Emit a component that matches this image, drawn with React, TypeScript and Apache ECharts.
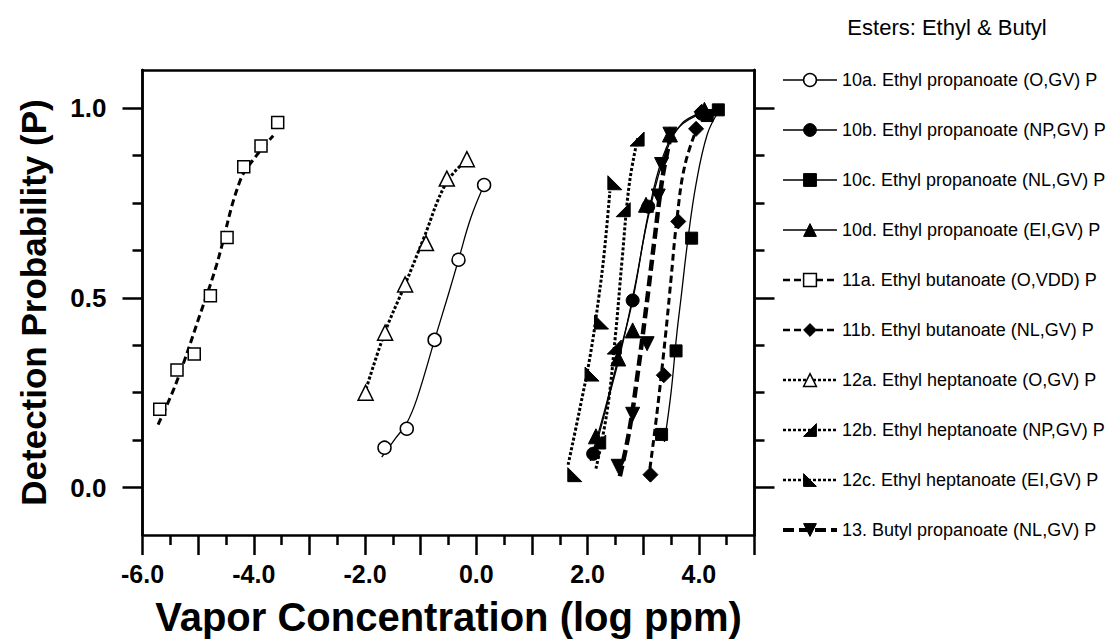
import React, { useEffect, useRef } from "react";
import * as echarts from "echarts";

const FONT = '"Liberation Sans", Arial, Helvetica, sans-serif';

// ---- Data ----
const LEGEND_NAMES = [
  "10a. Ethyl propanoate (O,GV) P",
  "10b. Ethyl propanoate (NP,GV) P",
  "10c. Ethyl propanoate (NL,GV) P",
  "10d. Ethyl propanoate (EI,GV) P",
  "11a. Ethyl butanoate (O,VDD) P",
  "11b. Ethyl butanoate (NL,GV) P",
  "12a. Ethyl heptanoate (O,GV) P",
  "12b. Ethyl heptanoate (NP,GV) P",
  "12c. Ethyl heptanoate (EI,GV) P",
  "13. Butyl propanoate (NL,GV) P",
];

const P10A = [[-1.65, 0.105], [-1.25, 0.155], [-0.75, 0.389], [-0.32, 0.6], [0.14, 0.797]];
const C10A = [[-1.7, 0.08], [-1.45, 0.13], [-1.25, 0.17], [-1.07, 0.233], [-0.75, 0.389], [-0.5, 0.51], [-0.32, 0.6], [-0.1, 0.71], [0.14, 0.797]];

const P10B = [[2.1, 0.089], [2.81, 0.493], [3.09, 0.74], [4.05, 0.985]];
const C10B = [[2.05, 0.07], [2.3, 0.2], [2.55, 0.34], [2.81, 0.493], [3.09, 0.72], [3.35, 0.87], [3.65, 0.95], [4.05, 0.985]];

const P10C = [[3.33, 0.14], [3.59, 0.36], [3.87, 0.657], [4.15, 0.98], [4.35, 0.995]];
const C10C = [[3.38, 0.12], [3.5, 0.25], [3.6, 0.4], [3.68, 0.5], [3.8, 0.65], [3.95, 0.8], [4.15, 0.93], [4.35, 0.99]];

const P10D = [[2.15, 0.135], [2.55, 0.34], [2.81, 0.414], [3.05, 0.745], [3.48, 0.93], [4.1, 0.995]];
const C10D = [[2.1, 0.08], [2.35, 0.22], [2.6, 0.36], [2.85, 0.53], [3.1, 0.72], [3.4, 0.88], [3.7, 0.96], [4.1, 0.99]];

const P11A = [[-5.69, 0.206], [-5.38, 0.31], [-5.07, 0.352], [-4.78, 0.505], [-4.48, 0.659], [-4.18, 0.845], [-3.87, 0.9], [-3.57, 0.962]];
const C11A = [[-5.72, 0.166], [-5.39, 0.277], [-4.97, 0.454], [-4.67, 0.586], [-4.25, 0.807], [-3.95, 0.875], [-3.65, 0.927]];

const P11B = [[3.13, 0.034], [3.37, 0.296], [3.63, 0.701], [3.95, 0.945], [4.05, 0.99]];
const C11B = [[3.12, 0.05], [3.25, 0.2], [3.4, 0.4], [3.5, 0.55], [3.6, 0.7], [3.75, 0.85], [4.0, 0.96]];

const P12A = [[-1.99, 0.25], [-1.64, 0.408], [-1.28, 0.535], [-0.905, 0.644], [-0.53, 0.814], [-0.17, 0.865]];
const C12A = [[-1.98, 0.26], [-1.64, 0.41], [-1.28, 0.535], [-0.95, 0.655], [-0.55, 0.8], [-0.2, 0.86]];

const P12B = [[2.2, 0.12], [2.48, 0.37], [2.64, 0.732], [2.89, 0.918]];
const C12B = [[2.15, 0.05], [2.35, 0.2], [2.5, 0.4], [2.62, 0.6], [2.75, 0.8], [2.9, 0.92]];

const P12C = [[1.77, 0.034], [2.08, 0.299], [2.25, 0.436], [2.49, 0.803]];
const C12C = [[1.65, 0.06], [1.85, 0.2], [2.05, 0.35], [2.2, 0.5], [2.3, 0.62], [2.4, 0.78]];

const P13 = [[2.55, 0.056], [2.81, 0.193], [3.07, 0.379], [3.27, 0.768], [3.33, 0.851], [3.48, 0.931]];
const C13 = [[2.58, 0.03], [2.75, 0.15], [2.9, 0.3], [3.05, 0.47], [3.2, 0.65], [3.35, 0.82], [3.5, 0.93]];

const X_LABELS = [-6, -4, -2, 0, 2, 4];
const Y_MAJOR = [0, 0.5, 1.0];
const Y_MINOR = [0.125, 0.25, 0.375, 0.625, 0.75, 0.875];

// ---- Styles ----
const DOWN_TRI = "path://M0,0L10,0L5,9Z";
const HALF_B = "path://M10,0L10,10L0,10Z";
const HALF_C = "path://M0,0L0,10L10,10Z";

const SOLID = "solid";
const DASH: number[] = [7, 4];
const DOT: number[] = [3, 2];
const LONGDASH: number[] = [11, 5];

const ITEMS = [
  { points: P10A, curve: C10A, symbol: "circle", size: 13, open: true, line: SOLID, width: 1.3 },
  { points: P10B, curve: C10B, symbol: "circle", size: 13, open: false, line: SOLID, width: 1.3 },
  { points: P10C, curve: C10C, symbol: "rect", size: 12, open: false, line: SOLID, width: 1.3 },
  { points: P10D, curve: C10D, symbol: "triangle", size: 15, open: false, line: SOLID, width: 1.3 },
  { points: P11A, curve: C11A, symbol: "rect", size: 12, open: true, line: DASH, width: 3 },
  { points: P11B, curve: C11B, symbol: "diamond", size: 15, open: false, line: DASH, width: 3 },
  { points: P12A, curve: C12A, symbol: "triangle", size: 15, open: true, line: DOT, width: 3 },
  { points: P12B, curve: C12B, symbol: HALF_B, size: 14, open: false, line: DOT, width: 3 },
  { points: P12C, curve: C12C, symbol: HALF_C, size: 14, open: false, line: DOT, width: 3 },
  { points: P13, curve: C13, symbol: DOWN_TRI, size: 14, open: false, line: LONGDASH, width: 4.5 },
];

export default function App() {
  const ref = useRef<HTMLDivElement>(null);

  useEffect(() => {
    if (!ref.current) return;
    const chart = echarts.init(ref.current, undefined, { renderer: "svg" });

    const curveSeries = ITEMS.map((it, i) => ({
      type: "line",
      name: "curve" + i,
      data: it.curve,
      smooth: 0.4,
      showSymbol: false,
      symbol: "none",
      silent: true,
      z: 2,
      lineStyle: { color: "#000", width: it.width, type: it.line },
    }));

    const pointSeries = ITEMS.map((it, i) => ({
      type: "line",
      name: LEGEND_NAMES[i],
      data: it.points,
      symbol: it.symbol,
      symbolSize: it.size,
      showSymbol: true,
      silent: true,
      z: 3,
      lineStyle: { width: 0, color: "#000" },
      itemStyle: it.open
        ? { color: "#fff", borderColor: "#000", borderWidth: 1.5 }
        : { color: "#000", borderColor: "#000", borderWidth: 1 },
    }));

    const legendData = ITEMS.map((it, i) => ({
      name: LEGEND_NAMES[i],
      lineStyle: { color: "#000", width: it.width > 2 ? it.width - 0.5 : 1.5, type: it.line, opacity: 1 },
      itemStyle: it.open
        ? { color: "#fff", borderColor: "#000", borderWidth: 1.5, opacity: 1 }
        : { color: "#000", borderColor: "#000", borderWidth: 1, opacity: 1 },
    }));

    const baseY = {
      type: "value",
      min: -0.125,
      max: 1.1,
      splitLine: { show: false },
      axisLine: { show: true, onZero: false, lineStyle: { color: "#000", width: 2.5 } },
    };

    chart.setOption({
      animation: false,
      grid: { left: 142.5, right: 357.5, top: 70, bottom: 109, containLabel: false },
      graphic: [
        {
          type: "text",
          x: 947,
          y: 27,
          style: {
            text: "Esters: Ethyl & Butyl",
            font: `22px ${FONT}`,
            fill: "#000",
            textAlign: "center",
            textVerticalAlign: "middle",
          },
        },
      ],
      legend: {
        orient: "vertical",
        left: 781,
        top: 71,
        padding: 0,
        itemWidth: 54,
        itemHeight: 16,
        itemGap: 32,
        selectedMode: false,
        textStyle: { fontFamily: FONT, fontSize: 18, color: "#000" },
        data: legendData,
      },
      xAxis: [
        {
          type: "value",
          min: -6,
          max: 5,
          interval: 1,
          position: "bottom",
          splitLine: { show: false },
          axisLine: { show: true, onZero: false, lineStyle: { color: "#000", width: 2.5 } },
          axisTick: { show: true, length: 20, lineStyle: { color: "#000", width: 2.5 } },
          minorTick: { show: true, splitNumber: 2, length: 10, lineStyle: { color: "#000", width: 2.5 } },
          axisLabel: {
            customValues: X_LABELS,
            formatter: (v: number) => v.toFixed(1),
            margin: 26,
            fontFamily: FONT,
            fontSize: 25,
            fontWeight: "bold",
            color: "#000",
          },
          name: "Vapor Concentration (log ppm)",
          nameLocation: "middle",
          nameGap: 62,
          nameTextStyle: { fontFamily: FONT, fontSize: 40, fontWeight: "bold", color: "#000" },
        },
        {
          type: "value",
          min: -6,
          max: 5,
          position: "top",
          splitLine: { show: false },
          axisLine: { show: true, onZero: false, lineStyle: { color: "#000", width: 2.5 } },
          axisTick: { show: false },
          axisLabel: { show: false },
        },
      ],
      yAxis: [
        {
          ...baseY,
          position: "left",
          axisTick: { show: true, customValues: Y_MAJOR, length: 20, lineStyle: { color: "#000", width: 2.5 } },
          axisLabel: {
            customValues: Y_MAJOR,
            formatter: (v: number) => v.toFixed(1),
            margin: 36,
            fontFamily: FONT,
            fontSize: 26,
            fontWeight: "bold",
            color: "#000",
          },
          name: "Detection Probability (P)",
          nameLocation: "middle",
          nameGap: 92,
          nameTextStyle: { fontFamily: FONT, fontSize: 35, fontWeight: "bold", color: "#000" },
        },
        {
          ...baseY,
          position: "left",
          axisTick: { show: true, customValues: Y_MINOR, length: 10, lineStyle: { color: "#000", width: 2.5 } },
          axisLabel: { show: false },
        },
        {
          ...baseY,
          position: "right",
          axisTick: { show: true, customValues: Y_MAJOR, length: 20, lineStyle: { color: "#000", width: 2.5 } },
          axisLabel: { show: false },
        },
        {
          ...baseY,
          position: "right",
          axisTick: { show: true, customValues: Y_MINOR, length: 10, lineStyle: { color: "#000", width: 2.5 } },
          axisLabel: { show: false },
        },
      ],
      series: [...curveSeries, ...pointSeries],
    });

    return () => chart.dispose();
  }, []);

  return (
    <div
      ref={ref}
      style={{ position: "fixed", left: 0, top: 0, width: 1112, height: 644, background: "#fff" }}
    />
  );
}
